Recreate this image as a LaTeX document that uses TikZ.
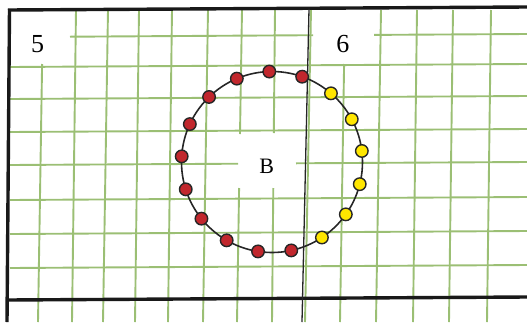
\documentclass[tikz,border=0pt]{standalone}
\usepackage{fontspec}
\setmainfont{Liberation Serif}
\definecolor{gittergruen}{HTML}{9BBF74}
\definecolor{punktrot}{HTML}{C1272D}
\definecolor{punktgelb}{HTML}{FFE600}
\begin{document}
\begin{tikzpicture}[
    x=1pt, y=-1pt,
    gitter/.style={draw=gittergruen, line width=1.9pt},
    rahmen/.style={draw=black!90, line width=3.4pt},
    punkt/.style={circle, draw=black!85, line width=1.4pt,
                  minimum size=12.5pt, inner sep=0pt},
    zahl/.style={inner sep=0pt, font=\fontsize{26}{26}\selectfont}
]
\useasboundingbox (0,0) rectangle (527,322);

% Raster senkrecht
\foreach \xo/\xu in {76/72, 108/103, 139/135, 172/168, 208/203,
                     311/305, 381/376, 417/413, 453/449, 491/487}
  \draw[gitter] (\xo,10) -- (\xu,322);
\draw[gitter] (42.1,64) -- (38,322);
\draw[gitter] (242,10) -- (240,134);
\draw[gitter] (239.1,188) -- (237,322);
\draw[gitter] (275,10) -- (273.8,133);
\draw[gitter] (273.3,188) -- (272,322);
\draw[gitter] (344.1,64) -- (340,322);

% Raster waagerecht
\foreach \yl/\yr in {67/64, 99/96, 132/129, 200/197, 234/231, 268/265}
  \draw[gitter] (10,\yl) -- (527,\yr);
\draw[gitter] (70,36.7) -- (313,35.2);
\draw[gitter] (374,34.9) -- (527,34);
\draw[gitter] (10,165) -- (238,163.7);
\draw[gitter] (296,163.3) -- (527,162);

% Rahmen
\draw[rahmen] (527,7) -- (8,10);
\draw[rahmen] (9.5,9) -- (7,322);
\draw[rahmen] (7,300) -- (527,297);
\draw[draw=black!85, line width=1.3pt] (309,9) -- (302,322);

% Kreis mit Punkten
\draw[line width=1.6pt, black!85] (272,162) circle[radius=90.5];
\foreach \k in {0,...,16} {
  \pgfmathsetmacro\a{7+\k*360/17}
  \ifnum\k<3 \def\fb{punktgelb}\else
    \ifnum\k>13 \def\fb{punktgelb}\else\def\fb{punktrot}\fi\fi
  \node[punkt, fill=\fb] (p\k) at ({272+90.5*cos(\a)},{162-90.5*sin(\a)}) {};
}

% Beschriftung
\node[zahl] (feld5) at (37.5,43.7) {5};
\node[zahl] (feld6) at (342.8,43.7) {6};
\node[inner sep=0pt, font=\fontsize{22}{22}\selectfont] (mitte) at (266.7,166.7) {B};

\end{tikzpicture}
\end{document}
